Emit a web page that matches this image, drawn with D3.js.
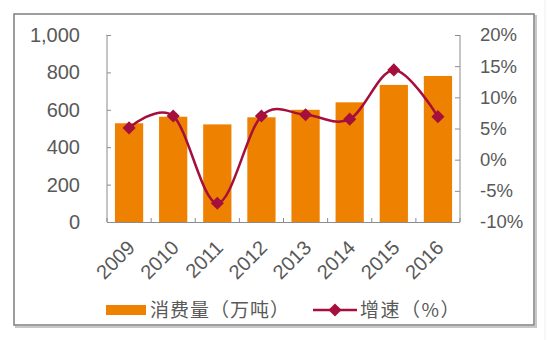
<!DOCTYPE html>
<html>
<head>
<meta charset="utf-8">
<script src="https://cdn.jsdelivr.net/npm/d3@7"></script>
<style>
  html, body { margin: 0; padding: 0; background: #fff; }
  svg { display: block; }
  text { fill: #595959; }
</style>
</head>
<body>
<svg id="chart" width="550" height="340"></svg>
<script>
// Consumption (10k tonnes) and year-on-year growth (%)
const years = ["2009", "2010", "2011", "2012", "2013", "2014", "2015", "2016"];
const consumption = [528, 563, 522, 560, 600, 640, 733, 781];
const growth = [5.1, 7.0, -7.0, 7.0, 7.2, 6.5, 14.4, 6.9];
const leftTicks = [0, 200, 400, 600, 800, 1000];
const rightTicks = [-10, -5, 0, 5, 10, 15, 20];
const barName = "消费量（万吨）";
const lineName = "增速（%）";

const barColor = "#EE8200";
const lineColor = "#A50F3C";
const axisColor = "#8C8C8C";

const svg = d3.select("#chart");

// Outer frame with a soft shadow on the right and bottom
svg.append("rect").attr("x", 16).attr("y", 16).attr("width", 520).attr("height", 311)
  .attr("fill", "none").attr("stroke", "#c8c8c8").attr("stroke-width", 2);
svg.append("rect").attr("x", 14).attr("y", 14).attr("width", 520).attr("height", 311)
  .attr("fill", "#fff").attr("stroke", "#7f7f7f").attr("stroke-width", 1.5);
svg.append("line").attr("x1", 545).attr("x2", 545).attr("y1", 0).attr("y2", 340)
  .attr("stroke", "#eeeeee").attr("stroke-width", 1);

const plot = { left: 107, right: 460, top: 35, bottom: 222 };

const x = d3.scaleBand().domain(years).range([plot.left, plot.right]).paddingInner(0.36).paddingOuter(0.18);
const yL = d3.scaleLinear().domain([0, 1000]).range([plot.bottom, plot.top]);
const yR = d3.scaleLinear().domain([-10, 20]).range([plot.bottom, plot.top]);

// Bars
svg.append("g").selectAll("rect").data(years).join("rect")
  .attr("x", d => x(d))
  .attr("width", x.bandwidth())
  .attr("y", (d, i) => yL(consumption[i]))
  .attr("height", (d, i) => yL(0) - yL(consumption[i]))
  .attr("fill", barColor);

// Left axis
const gL = svg.append("g").attr("transform", `translate(${plot.left},0)`)
  .call(d3.axisLeft(yL).tickValues(leftTicks).tickSize(-4).tickPadding(27).tickFormat(d3.format(",")));
gL.select(".domain").attr("stroke", axisColor).attr("d", `M-0.5,${plot.top}H0V${plot.bottom}`);
gL.selectAll(".tick line").attr("stroke", axisColor);
gL.selectAll("text").attr("font-family", "Liberation Sans, Arial, sans-serif").attr("font-size", 20).style("fill", "#595959");

// Right axis
const gR = svg.append("g").attr("transform", `translate(${plot.right},0)`)
  .call(d3.axisRight(yR).tickValues(rightTicks).tickSize(-5).tickPadding(20).tickFormat(d => d + "%"));
gR.select(".domain").attr("stroke", axisColor).attr("d", `M0,${plot.top}V${plot.bottom}`);
gR.selectAll(".tick line").attr("stroke", axisColor);
gR.selectAll("text").attr("font-family", "Liberation Sans, Arial, sans-serif").attr("font-size", 18.5).style("fill", "#595959");

// Bottom axis: baseline with small upward ticks at category boundaries
const bounds = d3.range(years.length + 1).map(i => plot.left + i * (plot.right - plot.left) / years.length);
const gB = svg.append("g");
gB.append("line").attr("x1", plot.left).attr("x2", plot.right).attr("y1", plot.bottom + 0.5).attr("y2", plot.bottom + 0.5)
  .attr("stroke", axisColor).attr("stroke-width", 1.2);
gB.selectAll("line.tk").data(bounds).join("line").attr("class", "tk")
  .attr("x1", d => d).attr("x2", d => d).attr("y1", plot.bottom).attr("y2", plot.bottom - 4)
  .attr("stroke", axisColor);
gB.selectAll("text").data(years).join("text")
  .attr("transform", d => `translate(${x(d) + x.bandwidth() / 2 + 2},${plot.bottom + 22}) rotate(-45)`)
  .attr("text-anchor", "end")
  .attr("dy", "0.35em")
  .attr("font-family", "Liberation Sans, Arial, sans-serif")
  .attr("font-size", 20)
  .text(d => d);

// Growth line (smoothed) with diamond markers
const pts = years.map((d, i) => [x(d) + x.bandwidth() / 2, yR(growth[i])]);
svg.append("path")
  .attr("d", d3.line().curve(d3.curveCardinal.tension(0))(pts))
  .attr("fill", "none").attr("stroke", lineColor).attr("stroke-width", 2.5);
const diamond = d3.symbol().type(d3.symbolDiamond2).size(110);
svg.append("g").selectAll("path").data(pts).join("path")
  .attr("transform", d => `translate(${d[0]},${d[1]})`)
  .attr("d", diamond)
  .attr("fill", lineColor);

// Legend
const lg = svg.append("g");
lg.append("rect").attr("x", 106).attr("y", 305).attr("width", 40).attr("height", 10).attr("fill", barColor);
lg.append("text").attr("x", 150).attr("y", 310).attr("dy", "0.35em")
  .attr("font-family", "Noto Sans CJK SC, sans-serif").attr("font-size", 19).attr("letter-spacing", 1).text(barName);
lg.append("line").attr("x1", 313).attr("x2", 357).attr("y1", 310).attr("y2", 310)
  .attr("stroke", lineColor).attr("stroke-width", 2.5);
lg.append("path").attr("transform", "translate(335,310)").attr("d", diamond).attr("fill", lineColor);
lg.append("text").attr("x", 360).attr("y", 310).attr("dy", "0.35em")
  .attr("font-family", "Noto Sans CJK SC, sans-serif").attr("font-size", 19).attr("letter-spacing", 1.5).text(lineName);
</script>
</body>
</html>
